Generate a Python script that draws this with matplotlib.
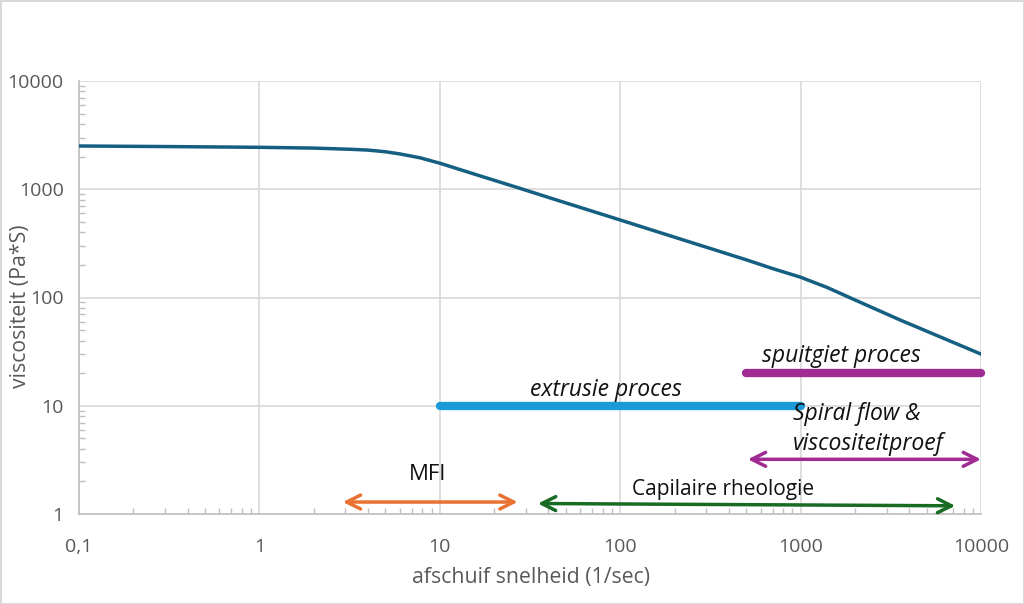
import matplotlib
matplotlib.use("Agg")
import matplotlib.pyplot as plt
from matplotlib.ticker import FixedLocator, LogLocator, NullFormatter, FixedFormatter

plt.rcParams['font.family'] = ['Open Sans', 'DejaVu Sans']

# viscosity curve
shear = [0.1, 0.3, 1, 2, 3.2, 4, 5, 6, 7.8, 10, 16.7, 27.8, 40.8, 100, 277, 500, 700, 1000, 1400, 2000, 3560, 10000]
visc = [2510, 2480, 2440, 2400, 2340, 2300, 2220, 2120, 1950, 1740, 1330, 1020, 832, 520, 304, 223, 185, 154, 124, 95, 62, 30]

# process ranges (bars)
extrusion_x = [10, 1000]
extrusion_y = [10, 10]
injection_x = [500, 10000]
injection_y = [20, 20]

# measurement ranges (double arrows)
mfi_x = [2.9, 27]
mfi_y = [1.29, 1.29]
cap_x = [35, 7200]
cap_y = [1.25, 1.19]
spiral_x = [510, 10000]
spiral_y = [3.2, 3.2]

x_ticks = [0.1, 1, 10, 100, 1000, 10000]
x_labels = ['0,1', '1', '10', '100', '1000', '10000']
y_ticks = [1, 10, 100, 1000, 10000]
y_labels = ['1', '10', '100', '1000', '10000']

fig = plt.figure(figsize=(10.24, 6.04), dpi=100)
fig.patch.set_edgecolor('#D9D9D9')
fig.patch.set_linewidth(2)
ax = fig.add_axes([79/1024, 1-514/604, (981-79)/1024, (514-81)/604])
ax.set_xscale('log')
ax.set_yscale('log')
ax.set_xlim(0.1, 10000)
ax.set_ylim(1, 10000)

grid_c = '#D9D9D9'
ax.xaxis.set_major_locator(FixedLocator(x_ticks))
ax.xaxis.set_major_formatter(FixedFormatter(x_labels))
ax.yaxis.set_major_locator(FixedLocator(y_ticks))
ax.yaxis.set_major_formatter(FixedFormatter(y_labels))
ax.xaxis.set_minor_locator(LogLocator(base=10, subs=range(2, 10), numticks=20))
ax.yaxis.set_minor_locator(LogLocator(base=10, subs=range(2, 10), numticks=20))
ax.xaxis.set_minor_formatter(NullFormatter())
ax.yaxis.set_minor_formatter(NullFormatter())
ax.grid(True, which='major', color=grid_c, linewidth=1.2)
ax.tick_params(which='major', length=0, labelsize=14, labelcolor='#595959')
ax.tick_params(axis='x', which='major', pad=17)
ax.tick_params(axis='y', which='major', pad=11)
ax.tick_params(which='minor', direction='in', length=4, color='#BFBFBF', width=1)
for s in ['top', 'right']:
    ax.spines[s].set_visible(False)
for s in ['left', 'bottom']:
    ax.spines[s].set_color('#BFBFBF')
    ax.spines[s].set_linewidth(1.2)

ax.plot(shear, visc, color='#156082', linewidth=2.5, zorder=3, solid_joinstyle='round')

ax.plot(extrusion_x, extrusion_y, color='#1A9BD7', linewidth=6, solid_capstyle='round', zorder=3)
ax.plot(injection_x, injection_y, color='#A02B93', linewidth=6, solid_capstyle='round', zorder=3, clip_on=False)

def darrow(xs, ys, color):
    ax.annotate('', xy=(xs[1], ys[1]), xytext=(xs[0], ys[0]),
                arrowprops=dict(arrowstyle='<->,head_length=1.0,head_width=0.5', color=color,
                                lw=2.5, shrinkA=0, shrinkB=0), annotation_clip=False, zorder=4)

darrow(mfi_x, mfi_y, '#E97132')
darrow(cap_x, cap_y, '#196B24')
darrow(spiral_x, spiral_y, '#A02B93')

txt = '#111111'
fs = 16.5
ax.text(606/1024, 1-390/604, 'extrusie proces', transform=fig.transFigure, ha='center', va='center',
        fontsize=fs, style='italic', color=txt)
ax.text(841/1024, 1-356/604, 'spuitgiet proces', transform=fig.transFigure, ha='center', va='center',
        fontsize=fs, style='italic', color=txt)
ax.text(793/1024, 1-429/604, 'Spiral flow &\nviscositeitproef', transform=fig.transFigure, ha='left', va='center',
        fontsize=fs, style='italic', color=txt, linespacing=1.38)
ax.text(428/1024, 1-474/604, 'MFI', transform=fig.transFigure, ha='center', va='center', fontsize=16, color=txt)
ax.text(723/1024, 1-489/604, 'Capilaire rheologie', transform=fig.transFigure, ha='center', va='center',
        fontsize=15, color=txt)

fig.text(531/1024, 1-578/604, 'afschuif snelheid (1/sec)', ha='center', va='center', fontsize=15.3, color='#595959')
fig.text(21/1024, 1-306/604, 'viscositeit (Pa*S)', ha='center', va='center', rotation=90, fontsize=15.3, color='#595959')

fig.savefig('out.png', dpi=100)
